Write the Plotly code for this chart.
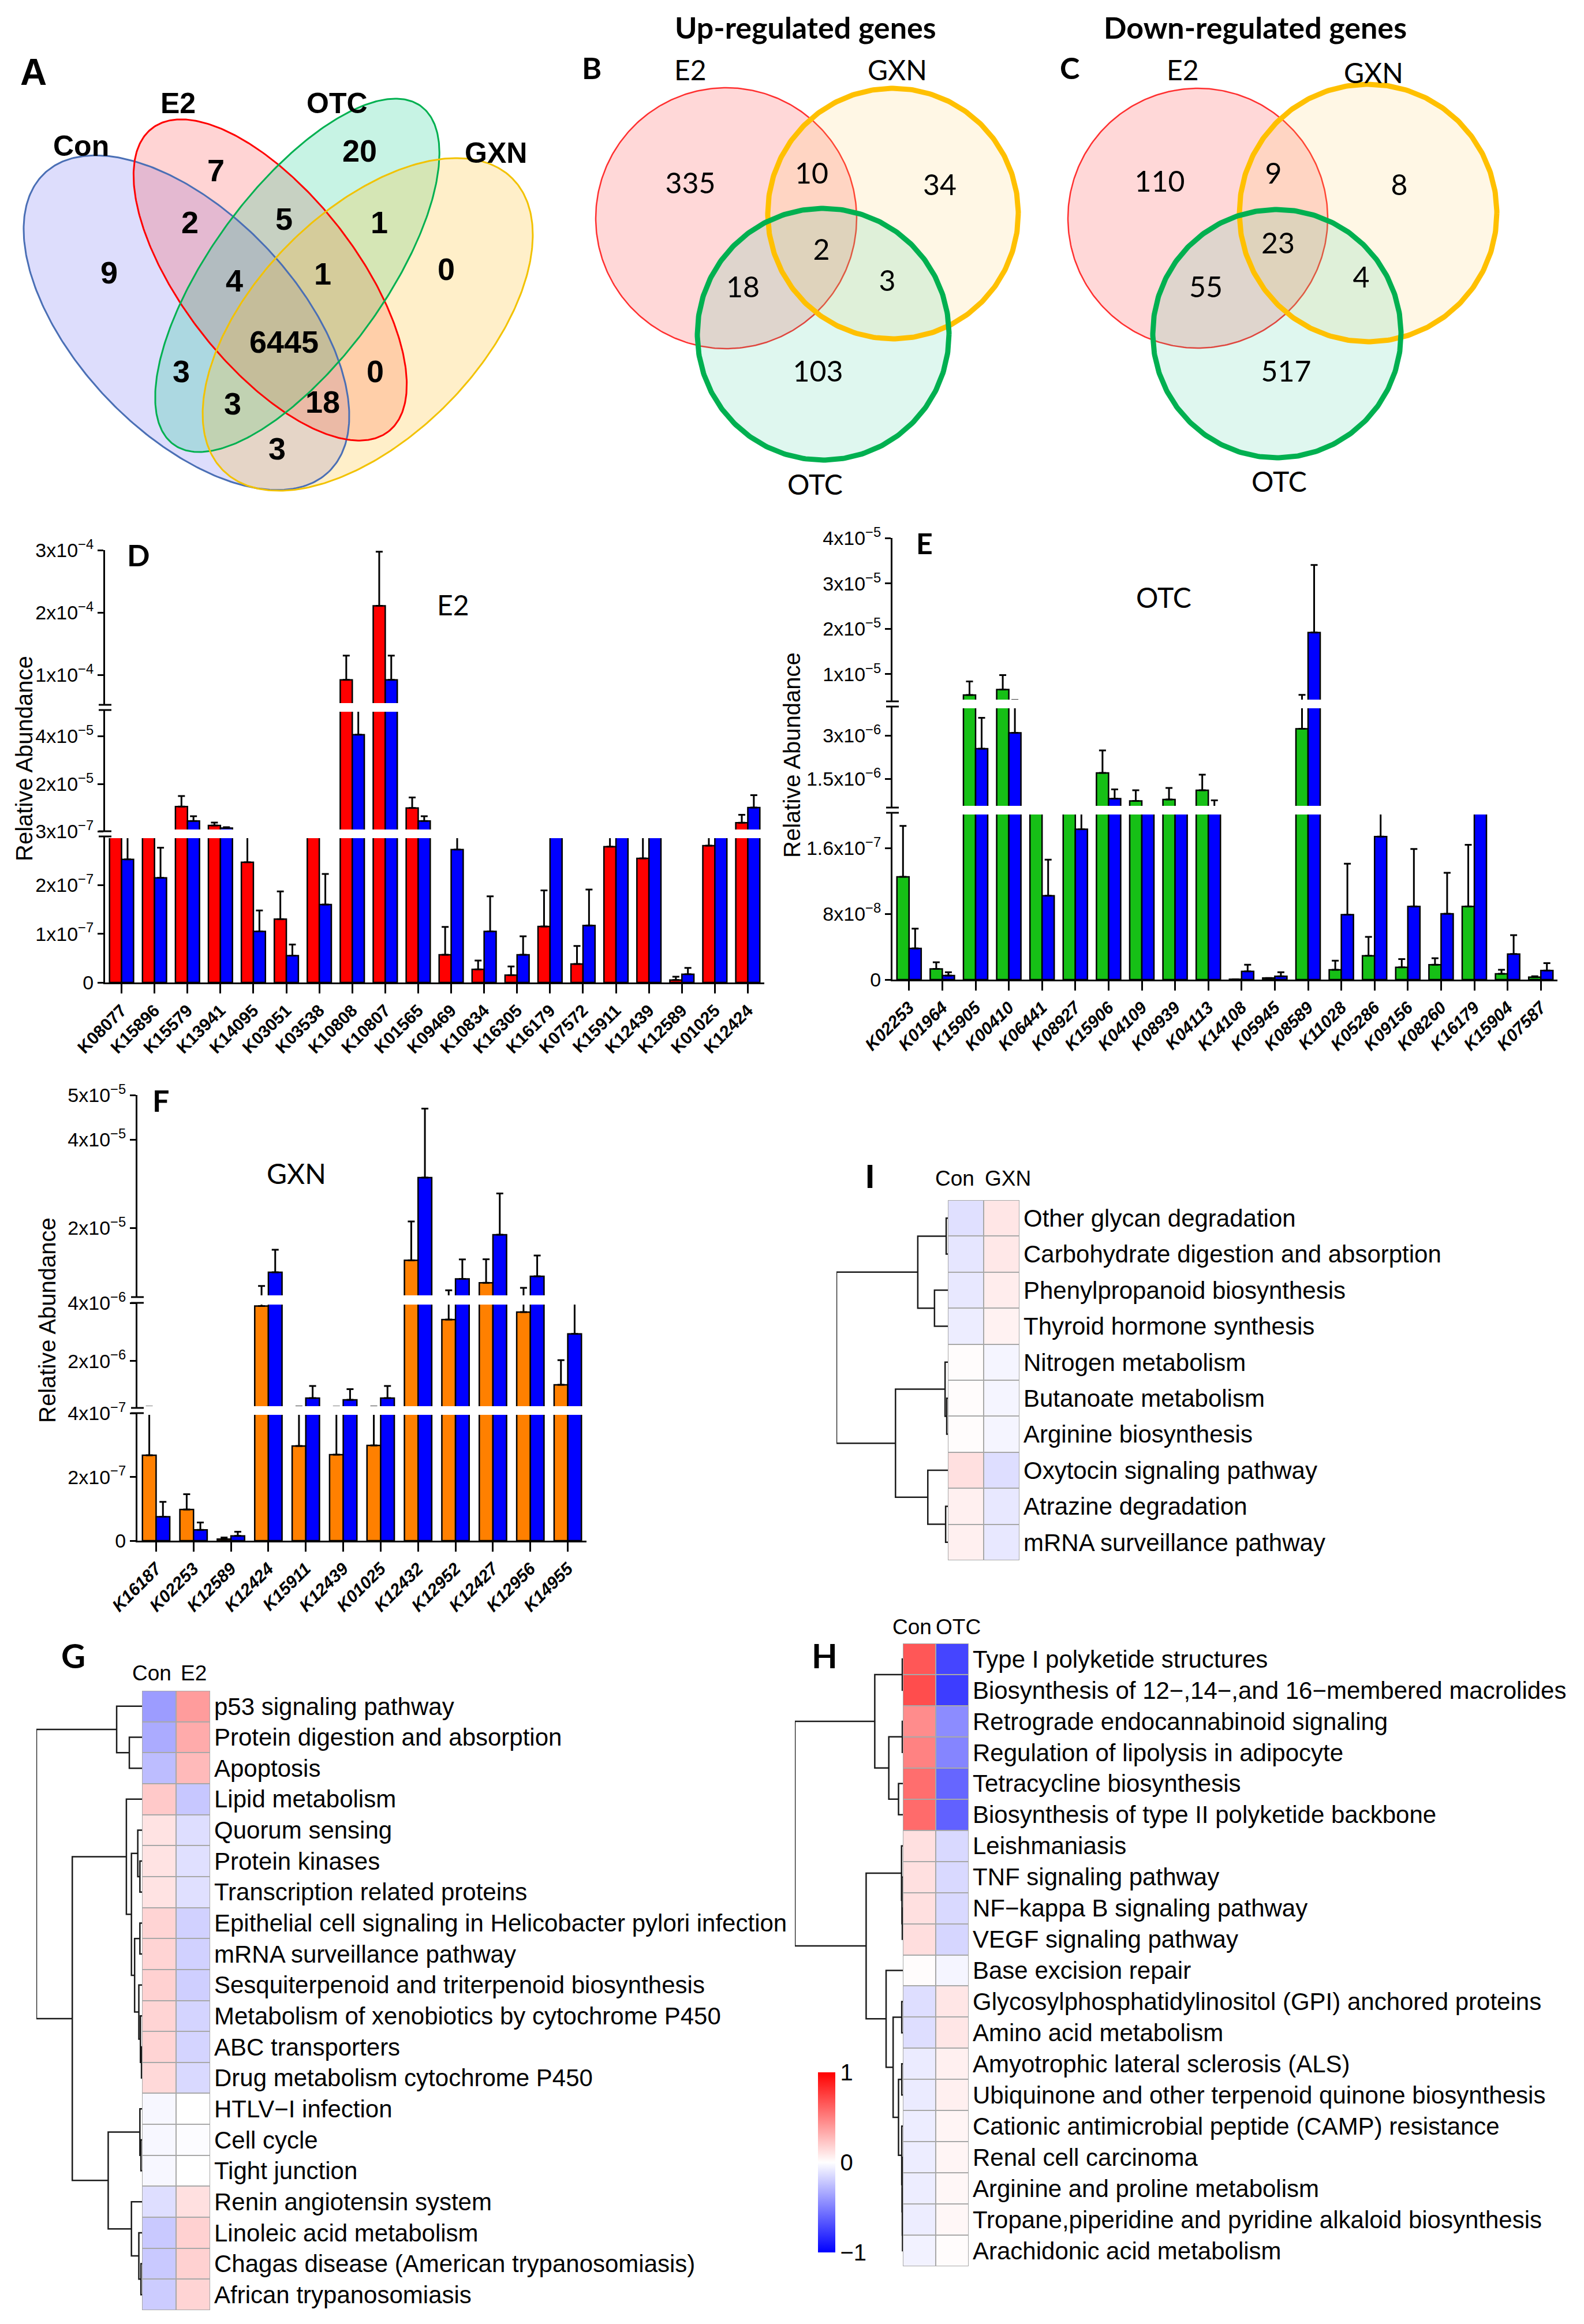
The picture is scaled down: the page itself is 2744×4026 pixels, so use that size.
import plotly.graph_objects as go
import numpy as np

W, H = 2744, 4026

# ------------------------------------------------------------------ DATA
venn4_sets = ["Con", "E2", "OTC", "GXN"]
venn4_counts = [9, 7, 2, 5, 20, 1, 4, 1, 0, 6445, 3, 0, 3, 18, 3]
venn3_sets = ["E2", "GXN", "OTC"]
up_counts = [335, 10, 34, 2, 18, 3, 103]
down_counts = [110, 9, 8, 23, 55, 4, 517]

D_cats = ["K08077", "K15896", "K15579", "K13941", "K14095", "K03051", "K03538", "K10808",
          "K10807", "K01565", "K09469", "K10834", "K16305", "K16179", "K07572", "K15911",
          "K12439", "K12589", "K01025", "K12424"]
D_e2 = [3.02e-7, 3.05e-7, 1.06e-5, 2.7e-6, 2.47e-7, 1.30e-7, 3.05e-7, 9.2e-5, 2.11e-4, 1.0e-5,
        0.57e-7, 0.27e-7, 0.15e-7, 1.15e-7, 0.38e-7, 2.79e-7, 2.55e-7, 0.05e-7, 2.81e-7, 3.85e-6]
D_e2_err = [0.15e-7, 0.15e-7, 4.4e-6, 1.2e-6, 0.63e-7, 0.57e-7, 0.15e-7, 3.9e-5, 8.7e-5, 4.4e-6,
            0.57e-7, 0.18e-7, 0.18e-7, 0.74e-7, 0.37e-7, 0.31e-7, 0.55e-7, 0.07e-7, 0.29e-7, 3.3e-6]
D_con = [2.53e-7, 2.15e-7, 4.6e-6, 1.6e-6, 1.05e-7, 0.55e-7, 1.6e-7, 4.07e-5, 9.2e-5, 4.6e-6,
         2.73e-7, 1.05e-7, 0.57e-7, 3.05e-7, 1.17e-7, 3.05e-7, 3.05e-7, 0.17e-7, 3.05e-7, 1.02e-5]
D_con_err = [0.6e-7, 0.62e-7, 2.0e-6, 0.4e-6, 0.43e-7, 0.23e-7, 0.63e-7, 1.2e-5, 3.9e-5, 2.0e-6,
             0.4e-7, 0.72e-7, 0.38e-7, 0.15e-7, 0.74e-7, 0.15e-7, 0.15e-7, 0.13e-7, 0.15e-7, 5.2e-6]

E_cats = ["K02253", "K01964", "K15905", "K00410", "K06441", "K08927", "K15906", "K04109",
          "K08939", "K04113", "K14108", "K05945", "K08589", "K11028", "K05286", "K09156",
          "K08260", "K16179", "K15904", "K07587"]
E_otc = [1.25e-7, 0.13e-7, 5.4e-6, 6.6e-6, 3.5e-7, 4.7e-7, 1.70e-6, 0.73e-6, 0.78e-6, 1.1e-6,
         0.004e-7, 0.02e-7, 3.23e-6, 0.12e-7, 0.29e-7, 0.15e-7, 0.18e-7, 0.89e-7, 0.07e-7, 0.03e-7]
E_otc_err = [0.62e-7, 0.08e-7, 3.0e-6, 3.2e-6, 0.3e-7, 0.5e-7, 0.78e-6, 0.37e-6, 0.4e-6, 0.54e-6,
             0.0, 0.0, 2.2e-6, 0.11e-7, 0.23e-7, 0.10e-7, 0.08e-7, 0.75e-7, 0.05e-7, 0.01e-7]
E_con = [0.38e-7, 0.05e-7, 2.54e-6, 3.09e-6, 1.02e-7, 1.83e-7, 0.81e-6, 3.5e-7, 4.6e-7, 0.52e-6,
         0.10e-7, 0.04e-7, 1.92e-5, 0.79e-7, 1.74e-7, 0.89e-7, 0.80e-7, 4.7e-7, 0.31e-7, 0.11e-7]
E_con_err = [0.24e-7, 0.04e-7, 1.07e-6, 1.2e-6, 0.44e-7, 0.3e-7, 0.32e-6, 0.3e-7, 0.6e-7, 0.23e-6,
             0.08e-7, 0.05e-7, 1.49e-5, 0.62e-7, 0.5e-7, 0.7e-7, 0.5e-7, 0.5e-7, 0.23e-7, 0.09e-7]

F_cats = ["K16187", "K02253", "K12589", "K12424", "K15911", "K12439", "K01025", "K12432",
          "K12952", "K12427", "K12956", "K14955"]
F_gxn = [2.68e-7, 0.98e-7, 0.05e-7, 3.9e-6, 2.97e-7, 2.7e-7, 2.99e-7, 1.27e-5, 3.43e-6, 7.64e-6, 3.69e-6, 1.18e-6]
F_gxn_err = [1.5e-7, 0.48e-7, 0.05e-7, 3.0e-6, 1.26e-7, 1.5e-7, 1.26e-7, 8.8e-6, 2.5e-6, 5.3e-6, 2.8e-6, 0.85e-6]
F_con = [0.75e-7, 0.34e-7, 0.15e-7, 1.0e-5, 0.72e-6, 0.66e-6, 0.72e-6, 3.14e-5, 8.5e-6, 1.85e-5, 9.1e-6, 2.94e-6]
F_con_err = [0.47e-7, 0.23e-7, 0.13e-7, 5.1e-6, 0.42e-6, 0.37e-6, 0.42e-6, 1.56e-5, 4.4e-6, 9.3e-6, 4.7e-6, 1.2e-6]

# broken-axis tick values (bottom, middle, top segment)
D_ticks = [[0, 1e-7, 2e-7], [3e-7, 2e-5, 4e-5], [1e-4, 2e-4, 3e-4]]
D_ticktext = [["0", "1x10<sup>−7</sup>", "2x10<sup>−7</sup>"],
              ["3x10<sup>−7</sup>", "2x10<sup>−5</sup>", "4x10<sup>−5</sup>"],
              ["1x10<sup>−4</sup>", "2x10<sup>−4</sup>", "3x10<sup>−4</sup>"]]
E_ticks = [[0, 8e-8, 1.6e-7], [1.5e-6, 3e-6], [1e-5, 2e-5, 3e-5, 4e-5]]
E_ticktext = [["0", "8x10<sup>−8</sup>", "1.6x10<sup>−7</sup>"],
              ["1.5x10<sup>−6</sup>", "3x10<sup>−6</sup>"],
              ["1x10<sup>−5</sup>", "2x10<sup>−5</sup>", "3x10<sup>−5</sup>", "4x10<sup>−5</sup>"]]
F_ticks = [[0, 2e-7, 4e-7], [2e-6, 4e-6], [2e-5, 4e-5, 5e-5]]
F_ticktext = [["0", "2x10<sup>−7</sup>", "4x10<sup>−7</sup>"],
              ["2x10<sup>−6</sup>", "4x10<sup>−6</sup>"],
              ["2x10<sup>−5</sup>", "4x10<sup>−5</sup>", "5x10<sup>−5</sup>"]]
D_ranges = [(0, 3.0e-7), (2.99e-7, 5.1e-5), (5.2e-5, 3.005e-4)]
E_ranges = [(0, 2.03e-7), (0.5e-6, 4.0e-6), (4.0e-6, 4.005e-5)]
F_ranges = [(0, 4.005e-7), (3.8e-7, 4.01e-6), (4.4e-6, 5.005e-5)]

I_rows = ["Other glycan degradation", "Carbohydrate digestion and absorption",
          "Phenylpropanoid biosynthesis", "Thyroid hormone synthesis", "Nitrogen metabolism",
          "Butanoate metabolism", "Arginine biosynthesis", "Oxytocin signaling pathway",
          "Atrazine degradation", "mRNA surveillance pathway"]
I_cols = ["Con", "GXN"]
I_con = [-0.12, -0.10, -0.09, -0.07, 0.01, 0.01, 0.01, 0.12, 0.06, 0.06]
I_gxn = [0.10, 0.09, 0.07, 0.05, -0.04, -0.04, -0.04, -0.13, -0.09, -0.09]
I_tree = (((0, 1, 0.015), (2, 3, 0.12), 0.27),
          ((4, (5, 6, 0.01), 0.025), (7, (8, 9, 0.02), 0.18), 0.47), 1.0)

G_rows = ["p53 signaling pathway", "Protein digestion and absorption", "Apoptosis",
          "Lipid metabolism", "Quorum sensing", "Protein kinases", "Transcription related proteins",
          "Epithelial cell signaling in Helicobacter pylori infection", "mRNA surveillance pathway",
          "Sesquiterpenoid and triterpenoid biosynthesis", "Metabolism of xenobiotics by cytochrome P450",
          "ABC transporters", "Drug metabolism cytochrome P450", "HTLV−I infection", "Cell cycle",
          "Tight junction", "Renin angiotensin system", "Linoleic acid metabolism",
          "Chagas disease (American trypanosomiasis)", "African trypanosomiasis"]
G_cols = ["Con", "E2"]
G_con = [-0.39, -0.33, -0.26, 0.21, 0.11, 0.11, 0.11, 0.17, 0.17, 0.18, 0.17, 0.17, 0.15,
         -0.03, -0.03, -0.03, -0.13, -0.21, -0.21, -0.20]
G_e2 = [0.39, 0.33, 0.27, -0.22, -0.13, -0.12, -0.12, -0.18, -0.18, -0.19, -0.17, -0.17, -0.15,
        0.0, -0.01, 0.0, 0.12, 0.18, 0.18, 0.17]
G_tree = ((0, (1, 2, 0.12), 0.24),
          ((3, ((4, (5, 6, 0.02), 0.04),
                ((7, 8, 0.02), (9, (10, (11, 12, 0.005), 0.015), 0.03), 0.07), 0.10), 0.148),
           ((13, (14, 15, 0.01), 0.02), (16, (17, (18, 19, 0.01), 0.03), 0.10), 0.32), 0.66), 1.0)

H_rows = ["Type I polyketide structures", "Biosynthesis of 12−,14−,and 16−membered macrolides",
          "Retrograde endocannabinoid signaling", "Regulation of lipolysis in adipocyte",
          "Tetracycline biosynthesis", "Biosynthesis of type II polyketide backbone", "Leishmaniasis",
          "TNF signaling pathway", "NF−kappa B signaling pathway", "VEGF signaling pathway",
          "Base excision repair", "Glycosylphosphatidylinositol (GPI) anchored proteins",
          "Amino acid metabolism", "Amyotrophic lateral sclerosis (ALS)",
          "Ubiquinone and other terpenoid quinone biosynthesis",
          "Cationic antimicrobial peptide (CAMP) resistance", "Renal cell carcinoma",
          "Arginine and proline metabolism", "Tropane,piperidine and pyridine alkaloid biosynthesis",
          "Arachidonic acid metabolism"]
H_cols = ["Con", "OTC"]
H_con = [0.66, 0.70, 0.45, 0.49, 0.57, 0.58, 0.12, 0.12, 0.12, 0.13, 0.01, -0.13, -0.13,
         -0.08, -0.08, -0.07, -0.07, -0.07, -0.07, -0.05]
H_otc = [-0.73, -0.76, -0.45, -0.48, -0.60, -0.62, -0.15, -0.15, -0.15, -0.16, -0.04, 0.10, 0.10,
         0.06, 0.06, 0.04, 0.04, 0.03, 0.03, 0.01]
H_tree = (((0, 1, 0.005), ((2, 3, 0.005), (4, 5, 0.04), 0.13), 0.26),
          ((6, (7, (8, 9, 0.005), 0.008), 0.012),
           (10, ((11, 12, 0.01), ((13, 14, 0.01),
                                 (15, (16, (17, (18, 19, 0.003), 0.005), 0.007), 0.01), 0.04), 0.09), 0.155),
           0.34), 1.0)

colorbar_ticks = [-1, 0, 1]
colorbar_ticktext = ["−1", "0", "1"]

# ------------------------------------------------------------------ STYLE
ARIAL = "Liberation Sans, Arial, sans-serif"
NARROW = "Liberation Sans Narrow, Arial Narrow, Liberation Sans, Arial, sans-serif"
CAL = "Lato, Carlito, Calibri, Liberation Sans, sans-serif"
BLUE = "#0000ff"
CS = [[0, "#0000ff"], [0.5, "#ffffff"], [1, "#ff0000"]]

fig = go.Figure()
axes = {}
shapes = []
annotations = []
_n = [1]


def nid():
    _n[0] += 1
    return _n[0]


def xname(i):
    return "xaxis" if i == 1 else f"xaxis{i}"


def yname(i):
    return "yaxis" if i == 1 else f"yaxis{i}"


def xref(i):
    return "x" if i == 1 else f"x{i}"


def yref(i):
    return "y" if i == 1 else f"y{i}"


def ann(text, x, y, size, family, bold=False, angle=0):
    annotations.append(dict(text=text, x=x / W, y=1 - y / H, xref="paper", yref="paper",
                            showarrow=False, xanchor="center", yanchor="middle", textangle=angle,
                            font=dict(family=family, size=size, color="black",
                                      weight="bold" if bold else "normal")))


# ------------------------------------------------------------------ page axis for Venn diagrams
axes["xaxis"] = dict(domain=[0, 1], range=[0, W], visible=False, fixedrange=True)
axes["yaxis"] = dict(domain=[0, 1], range=[H, 0], visible=False, fixedrange=True)


def ellipse_xy(cx, cy, a, b, th):
    t = np.linspace(0, 2 * np.pi, 361)
    c, s = np.cos(np.radians(th)), np.sin(np.radians(th))
    return (cx + a * np.cos(t) * c - b * np.sin(t) * s,
            cy + a * np.cos(t) * s + b * np.sin(t) * c)


def venn(shapes_spec, fill_order, line_order, counts, pos, size, family, bold):
    for k in fill_order:
        cx, cy, a, b, th, fc, lc, lw = shapes_spec[k]
        x, y = ellipse_xy(cx, cy, a, b, th)
        fig.add_trace(go.Scatter(x=x, y=y, mode="lines", fill="toself", fillcolor=fc,
                                 line=dict(width=0), hoverinfo="skip", showlegend=False))
    for k in line_order:
        cx, cy, a, b, th, fc, lc, lw = shapes_spec[k]
        x, y = ellipse_xy(cx, cy, a, b, th)
        fig.add_trace(go.Scatter(x=x, y=y, mode="lines", line=dict(color=lc, width=lw),
                                 hoverinfo="skip", showlegend=False))
    fig.add_trace(go.Scatter(x=[p[0] for p in pos], y=[p[1] for p in pos], mode="text",
                             text=[str(c) for c in counts], textposition="middle center",
                             textfont=dict(family=family, size=size, color="black",
                                           weight="bold" if bold else "normal"),
                             hoverinfo="skip", showlegend=False))


# Panel A (4 ellipses)
A_spec = [
    (315, 551, 357, 190, 46.4, "rgba(100,100,240,0.22)", "#4a6fb5", 3),
    (460, 477, 333, 150, 52.0, "rgba(255,60,60,0.22)", "#ff0000", 3),
    (507, 469, 363, 150, -53.8, "rgba(0,200,130,0.22)", "#00b050", 3),
    (629, 554, 356, 195, -45.4, "rgba(255,190,40,0.25)", "#f2c200", 3),
]
A_pos = [(181, 469), (366, 292), (321, 382), (484, 376), (615, 258), (649, 382), (398, 483),
         (551, 471), (765, 463), (484, 589), (306, 640), (642, 640), (395, 696), (551, 693), (472, 774)]
venn(A_spec, [0, 1, 2, 3], [0, 1, 2, 3], venn4_counts, A_pos, 54, ARIAL, True)
for name, (x, y) in zip(venn4_sets, [(132, 245), (300, 171), (576, 171), (851, 257)]):
    ann(name, x, y, 50, ARIAL, True)

# Panels B and C (3 circles)
B_spec = [
    (1250, 370, 226, 226, 0, "rgba(255,60,60,0.2)", "rgba(255,0,0,0.8)", 2.5),
    (1539, 362, 217, 217, 0, "rgba(255,200,80,0.15)", "#ffc000", 9),
    (1418, 571, 218, 218, 0, "rgba(40,200,150,0.15)", "#00b050", 9),
]
C_spec = [
    (2067, 370, 225, 225, 0, "rgba(255,60,60,0.2)", "rgba(255,0,0,0.8)", 2.5),
    (2362, 361, 223, 223, 0, "rgba(255,200,80,0.15)", "#ffc000", 9),
    (2204, 570, 215, 215, 0, "rgba(40,200,150,0.15)", "#00b050", 9),
]
B_pos = [(1188, 314), (1398, 297), (1620, 317), (1415, 429), (1279, 494), (1529, 483), (1409, 640)]
C_pos = [(2001, 311), (2198, 297), (2416, 317), (2206, 418), (2081, 494), (2350, 477), (2220, 640)]
for spec, counts, pos in ((B_spec, up_counts, B_pos), (C_spec, down_counts, C_pos)):
    cx, cy, a, b, th, fc, lc, lw = spec[0]
    x, y = ellipse_xy(cx, cy, a, b, th)
    fig.add_trace(go.Scatter(x=x, y=y, mode="lines", fill="toself", fillcolor=fc,
                             line=dict(color=lc, width=lw), hoverinfo="skip", showlegend=False))
    venn(spec, [1, 2], [1, 2], counts, pos, 50, CAL, False)
for name, (x, y) in zip(venn3_sets, [(1188, 112), (1546, 112), (1404, 831)]):
    ann(name, x, y, 48, CAL)
for name, (x, y) in zip(venn3_sets, [(2041, 112), (2371, 118), (2208, 825)]):
    ann(name, x, y, 48, CAL)
ann("Up-regulated genes", 1387, 39, 52, CAL, True)
ann("Down-regulated genes", 2166, 39, 52, CAL, True)


# ------------------------------------------------------------------ broken-axis bar panels
def bar_panel(cats, trt, trt_err, con, con_err, color, doms, ranges, ticks, ticktext, xdom, style):
    n = len(cats)
    idx = list(range(n))
    xi = nid()
    yids = [nid() for _ in doms]
    axes[xname(xi)] = dict(domain=[xdom[0] / W, xdom[1] / W], range=[-0.5, n - 0.5],
                           anchor=yref(yids[0]), tickmode="array", tickvals=idx, ticktext=cats,
                           tickangle=-45, ticks="outside", ticklen=16, tickwidth=3,
                           tickcolor="black", showline=True, linewidth=3, linecolor="black",
                           showgrid=False, zeroline=False, fixedrange=True,
                           tickfont=dict(family=ARIAL, size=30, color="black", weight="bold",
                                         style=style))
    for dom, rng, tv, tt, yi in zip(doms, ranges, ticks, ticktext, yids):
        axes[yname(yi)] = dict(domain=[1 - dom[1] / H, 1 - dom[0] / H], range=list(rng),
                               anchor=xref(xi), tickmode="array", tickvals=tv, ticktext=tt,
                               ticks="outside", ticklen=10, tickwidth=3, tickcolor="black",
                               showline=True, linewidth=3, linecolor="black", showgrid=False,
                               zeroline=False, fixedrange=True,
                               tickfont=dict(family=NARROW, size=34, color="black"))
        for vals, errs, col in ((trt, trt_err, color), (con, con_err, BLUE)):
            lw = [2.5 if v > rng[0] else 0 for v in vals]
            fig.add_trace(go.Bar(x=idx, y=vals, xaxis=xref(xi), yaxis=yref(yi),
                                 marker=dict(color=col, line=dict(color="black", width=lw)),
                                 error_y=dict(type="data", symmetric=False, array=errs,
                                              arrayminus=[0] * n, color="black", thickness=3,
                                              width=6),
                                 hoverinfo="skip", showlegend=False))
    # white break band across the bars, then the break marks on the axis
    for lower, upper in zip(doms[:-1], doms[1:]):
        shapes.append(dict(type="rect", xref="paper", yref="paper", layer="above",
                           x0=(xdom[0] + 2) / W, x1=(xdom[1] + 2) / W,
                           y0=1 - (lower[0] + 3) / H, y1=1 - (upper[1] - 3) / H,
                           fillcolor="white", line=dict(width=0)))
    for lower, upper in zip(doms[:-1], doms[1:]):
        for py in (lower[0], upper[1]):
            shapes.append(dict(type="line", xref="paper", yref="paper",
                               x0=(xdom[0] - 11) / W, x1=(xdom[0] + 11) / W,
                               y0=1 - py / H, y1=1 - py / H, line=dict(color="black", width=3)))


bar_panel(D_cats, D_e2, D_e2_err, D_con, D_con_err, "#ff0000",
          [(1441, 1694), (1222, 1432), (945, 1213)], D_ranges, D_ticks, D_ticktext,
          (174, 1316), "normal")
bar_panel(E_cats, E_otc, E_otc_err, E_con, E_con_err, "#16c016",
          [(1400, 1689), (1216, 1391), (924, 1207)], E_ranges, E_ticks, E_ticktext,
          (1538, 2690), "italic")
bar_panel(F_cats, F_gxn, F_gxn_err, F_con, F_con_err, "#ff8000",
          [(2440, 2661), (2249, 2431), (1889, 2239)], F_ranges, F_ticks, F_ticktext,
          (230, 1008), "italic")

ann("Relative Abundance", 34, 1306, 40, ARIAL, angle=-90)
ann("Relative Abundance", 1364, 1300, 40, ARIAL, angle=-90)
ann("Relative Abundance", 74, 2279, 40, ARIAL, angle=-90)
ann("E2", 777, 1040, 48, CAL)
ann("OTC", 2008, 1027, 48, CAL)
ann("GXN", 505, 2024, 48, CAL)


# ------------------------------------------------------------------ heatmaps with dendrograms
def dendro_lines(node, xs, ys):
    if isinstance(node, int):
        return float(node), 0.0
    left, right, h = node
    pl, hl = dendro_lines(left, xs, ys)
    pr, hr = dendro_lines(right, xs, ys)
    xs += [hl, h, h, hr, None]
    ys += [pl, pl, pr, pr, None]
    return (pl + pr) / 2, h


def heat_panel(rows, cols, zc, zt, box, dend_left, tree, col_pos, showscale=False, cb=None):
    x0, x1, y0, y1 = box
    n = len(rows)
    xi, yi = nid(), nid()
    axes[xname(xi)] = dict(domain=[x0 / W, x1 / W], range=[-0.5, 1.5], anchor=yref(yi),
                           showticklabels=False, ticks="", showgrid=False, zeroline=False,
                           showline=False, fixedrange=True)
    axes[yname(yi)] = dict(domain=[1 - y1 / H, 1 - y0 / H], range=[n - 0.5, -0.5],
                           anchor=xref(xi), side="right", tickmode="array",
                           tickvals=list(range(n)), ticktext=rows, ticks="", showgrid=False,
                           zeroline=False, showline=False, fixedrange=True, ticklabelstandoff=6,
                           tickfont=dict(family=ARIAL, size=42, color="black"))
    shapes.append(dict(type="rect", xref=xref(xi), yref=yref(yi), x0=-0.5, x1=1.5, y0=-0.5,
                       y1=n - 0.5, fillcolor="#a8a8a8", line=dict(color="#a8a8a8", width=2),
                       layer="below"))
    fig.add_trace(go.Heatmap(z=[[c, t] for c, t in zip(zc, zt)], x=[0, 1], y=list(range(n)),
                             zmin=-1, zmax=1, colorscale=CS, xgap=2, ygap=2,
                             showscale=showscale, colorbar=cb, xaxis=xref(xi), yaxis=yref(yi),
                             hoverinfo="skip"))
    for name, (cx, cy) in zip(cols, col_pos):
        ann(name, cx, cy, 37, NARROW)
    dxi, dyi = nid(), nid()
    axes[xname(dxi)] = dict(domain=[dend_left / W, x0 / W], range=[1.0, 0.0], visible=False,
                            fixedrange=True, anchor=yref(dyi))
    axes[yname(dyi)] = dict(domain=[1 - y1 / H, 1 - y0 / H], range=[n - 0.5, -0.5],
                            visible=False, fixedrange=True, anchor=xref(dxi))
    xs, ys = [], []
    dendro_lines(tree, xs, ys)
    fig.add_trace(go.Scatter(x=xs, y=ys, mode="lines", line=dict(color="#1a1a1a", width=2.5),
                             cliponaxis=False, xaxis=xref(dxi), yaxis=yref(dyi),
                             hoverinfo="skip", showlegend=False))


heat_panel(I_rows, I_cols, I_con, I_gxn, (1634, 1758, 2071, 2695), 1441, I_tree,
           [(1646, 2034), (1738, 2034)])
heat_panel(G_rows, G_cols, G_con, G_e2, (238, 356, 2921, 3994), 55, G_tree,
           [(255, 2890), (327, 2890)])
cbar = dict(x=1399 / W, xanchor="left", y=1 - 3738 / H, yanchor="middle", len=332,
            lenmode="pixels", thickness=30, thicknessmode="pixels", tickmode="array",
            tickvals=colorbar_ticks, ticktext=colorbar_ticktext, ticks="", outlinewidth=0,
            tickfont=dict(family=ARIAL, size=40, color="black"))
heat_panel(H_rows, H_cols, H_con, H_otc, (1556, 1670, 2839, 3918), 1369, H_tree,
           [(1572, 2810), (1652, 2810)], showscale=True, cb=cbar)

# ------------------------------------------------------------------ panel letters
ann("A", 50, 117, 64, ARIAL, True)
ann("B", 1017, 109, 52, CAL, True)
ann("C", 1845, 109, 52, CAL, True)
ann("D", 232, 953, 52, CAL, True)
ann("E", 1593, 933, 50, CAL, True)
ann("F", 270, 1898, 52, CAL, True)
ann("G", 119, 2859, 58, CAL, True)
ann("H", 1420, 2859, 58, CAL, True)
ann("I", 1499, 2029, 58, ARIAL, True)

fig.update_layout(width=W, height=H,
                  margin=dict(l=0, r=0, t=0, b=0, pad=0, autoexpand=False),
                  paper_bgcolor="white", plot_bgcolor="rgba(0,0,0,0)", showlegend=False,
                  barmode="group", bargap=0.27, bargroupgap=0.0, shapes=shapes,
                  annotations=annotations, **axes)
fig.write_html("out.html")
